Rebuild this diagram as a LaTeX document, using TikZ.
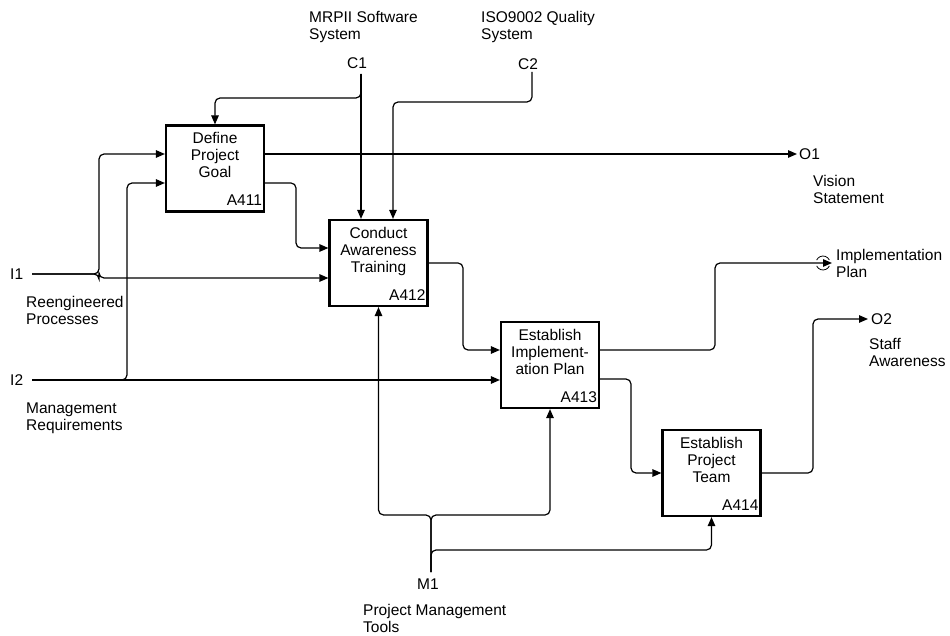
\documentclass[tikz,border=0pt]{standalone}
\usepackage{fontspec}
\setmainfont{Liberation Sans}
\usetikzlibrary{arrows.meta}
\begin{document}
\begin{tikzpicture}[x=1pt,y=-1pt,
  box/.style={draw,line width=2.2pt,minimum width=98pt,minimum height=86pt,inner sep=0pt},
  flow/.style={line width=1.2pt,rounded corners=5pt,-{Triangle[length=9pt,width=7.5pt]}},
  lbl/.style={inner sep=0pt,font=\fontsize{15.5}{17}\selectfont},
  lblnw/.style={lbl,anchor=north west,align=left},
  btxt/.style={lbl,anchor=north,align=center},
  bnum/.style={lbl,anchor=base east}]
\fill[white] (0,0) rectangle (950,636);
\useasboundingbox (0,0) rectangle (950,636);

% boxes
\node[box] (A411) at (215,168.5) {};
\node[box] (A412) at (378.5,263) {};
\node[box] (A413) at (550,365) {};
\node[box] (A414) at (711.5,473) {};

\node[btxt] (t411) at ([yshift=-8pt]A411.north) {Define\\Project\\Goal};
\node[btxt] (t412) at ([yshift=-8pt]A412.north) {Conduct\\Awareness\\Training};
\node[btxt] (t413) at ([yshift=-8pt]A413.north) {Establish\\Implement-\\ation Plan};
\node[btxt] (t414) at ([yshift=-8pt]A414.north) {Establish\\Project\\Team};

\node[bnum] (n411) at ([xshift=-3pt,yshift=7pt]A411.south east) {A411};
\node[bnum] (n412) at ([xshift=-3pt,yshift=7pt]A412.south east) {A412};
\node[bnum] (n413) at ([xshift=-3pt,yshift=7pt]A413.south east) {A413};
\node[bnum] (n414) at ([xshift=-3pt,yshift=7pt]A414.south east) {A414};

% boundary coordinates
\coordinate (c1) at (361,74);
\coordinate (c2) at (532,72);
\coordinate (i1) at (32,274);
\coordinate (i2) at (32,380);
\coordinate (o1) at (797,154);
\coordinate (ip) at (832,263);
\coordinate (o2) at (868,319);
\coordinate (m1) at (431,572);

% labels
\node[lblnw] (lc1) at (309,11) {MRPII Software\\System};
\node[lbl,anchor=north] (tc1) at (357,57) {C1};
\node[lblnw] (lc2) at (481,11) {ISO9002 Quality\\System};
\node[lbl,anchor=north] (tc2) at (528,58) {C2};
\node[lbl,anchor=west] (to1) at (799,154) {O1};
\node[lblnw] (lo1) at (813,175) {Vision\\Statement};
\node[lblnw] (lip) at (836,249) {Implementation\\Plan};
\node[lbl,anchor=west] (to2) at (871,319) {O2};
\node[lblnw] (lo2) at (869,338) {Staff\\Awareness};
\node[lbl,anchor=west] (ti1) at (10,274) {I1};
\node[lblnw] (li1) at (26,296) {Reengineered\\Processes};
\node[lbl,anchor=west] (ti2) at (10,380) {I2};
\node[lblnw] (li2) at (26,403) {Management\\Requirements};
\node[lbl,anchor=north] (tm1) at (428,579) {M1};
\node[lblnw] (lm1) at (363,604) {Project Management\\Tools};

% controls
\draw[flow] (c1) -- (c1 |- A412.north);
\draw[flow] (c1) -- (361,98) -| (A411.north);
\draw[flow] (c2) -- (532,102) -| ([xshift=14.5pt]A412.north);

% inputs
\draw[flow] (i1) -- (99,274) |- ([yshift=14.5pt]A411.west);
\draw[flow] (i1) -- (99,274) |- ([yshift=-15pt]A412.west);
\draw[flow] (i2) -- ([yshift=-15pt]A413.west);
\draw[flow] (i2) -- (127,380) |- ([yshift=-14.5pt]A411.west);

% outputs and internal flows
\draw[flow] ([yshift=14.5pt]A411.east) -- (o1);
\draw[flow] ([yshift=-14.5pt]A411.east) -- (296,183) |- ([yshift=15pt]A412.west);
\draw[flow] (A412.east) -- (463,263) |- ([yshift=15pt]A413.west);
\draw[flow] ([yshift=15pt]A413.east) -- (715,350) |- (ip);
\draw[flow] ([yshift=-14pt]A413.east) -- (631,379) |- (A414.west);
\draw[flow] (A414.east) -- (813,473) |- (o2);

% tunnel mark (parentheses round the arrow end)
\draw[line width=0.8pt] ([xshift=-9pt]ip) ++(25:7pt) arc[start angle=25,end angle=155,radius=7pt];
\draw[line width=0.8pt] ([xshift=-9pt]ip) ++(205:7pt) arc[start angle=205,end angle=335,radius=7pt];

% mechanisms
\draw[flow] (m1) -- (431,515) -| (A412.south);
\draw[flow] (m1) -- (431,515) -| (A413.south);
\draw[flow] (m1) -- (431,550) -| (A414.south);
\end{tikzpicture}
\end{document}
